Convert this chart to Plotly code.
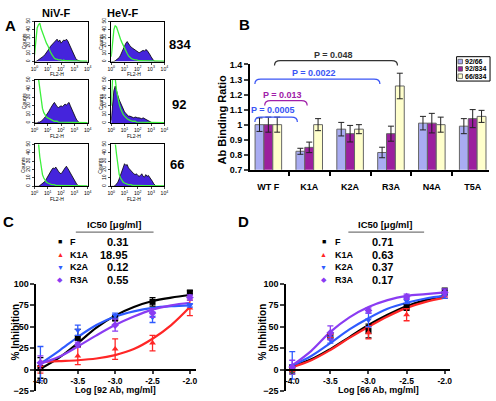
import plotly.graph_objects as go

W, H = 496, 401
FONT = "Liberation Sans, Arial, sans-serif"

# ---------------- Panel A data (flow cytometry histograms) ----------------
fl2_log = [0.0, 0.1, 0.2, 0.3, 0.4, 0.5, 0.6, 0.7, 0.8, 0.9, 1.0, 1.1, 1.2, 1.3,
           1.4, 1.5, 1.6, 1.7, 1.8, 1.9, 2.0, 2.1, 2.2, 2.3, 2.4, 2.5, 2.6, 2.7,
           2.8, 2.9, 3.0, 3.1, 3.2, 3.3, 3.4, 3.5, 3.6, 3.7, 3.8, 3.9, 4.0]
columns = ["NiV-F", "HeV-F"]
rows = ["834", "92", "66"]

niv_834_fill = [0, 0, 1, 2, 3, 4, 5, 7, 9, 11, 14, 16, 19, 21, 23, 25, 27, 28, 25, 27, 23,
                25, 27, 26, 28, 26, 22, 18, 14, 10, 7, 4, 2, 1, 0, 0, 0, 0, 0, 0, 0]
niv_834_ctrl = [8, 30, 42, 46, 48, 41, 36, 31, 27, 23, 20, 15, 12, 9, 6, 4, 3, 3, 2, 2, 2,
                1, 2, 1, 1, 1, 1, 1, 1, 0.5, 0.5, 0.5, 0.5, 0.5, 0.5, 0.5, 0.5, 0.5, 0.5, 0.5, 0.5]
hev_834_fill = [0, 0, 0, 1, 2, 3, 5, 8, 12, 17, 20, 23, 25, 22, 20, 18, 17, 15, 14, 13, 12,
                11, 12, 13, 14, 13, 15, 14, 12, 9, 6, 3, 1, 0, 0, 0, 0, 0, 0, 0, 0]
hev_834_ctrl = [6, 28, 40, 45, 43, 38, 32, 28, 24, 20, 17, 14, 10, 7, 5, 4, 3, 2, 2, 2, 1,
                1, 1, 1, 1, 1, 1, 0.5, 0.5, 0.5, 0.5, 0.5, 0.5, 0.5, 0.5, 0.5, 0.5, 0.5, 0.5, 0.5, 0.5]
niv_92_fill = [0, 0, 0, 1, 1, 2, 3, 5, 7, 9, 11, 14, 17, 20, 22, 24, 21, 19, 18, 19, 20,
               19, 20, 22, 21, 23, 24, 20, 16, 13, 10, 6, 3, 1, 0, 0, 0, 0, 0, 0, 0]
niv_92_ctrl = [52, 52, 52, 52, 40, 25, 17, 12, 9, 7, 6, 5, 4, 3, 3, 2, 2, 2, 1, 1, 1,
               1, 1, 1, 1, 1, 1, 0.5, 0.5, 0.5, 0.5, 0.5, 0.5, 0.5, 0.5, 0.5, 0.5, 0.5, 0.5, 0.5, 0.5]
hev_92_fill = [3, 20, 38, 43, 36, 32, 27, 23, 19, 16, 13, 11, 9, 8, 8, 7, 7, 6, 7, 6, 6,
               6, 5, 5, 6, 5, 4, 3, 2, 1, 1, 0, 0, 0, 0, 0, 0, 0, 0, 0, 0]
hev_92_ctrl = [20, 52, 52, 52, 38, 28, 22, 17, 13, 10, 8, 6, 5, 4, 3, 3, 2, 2, 2, 1, 1,
               1, 1, 1, 1, 1, 1, 0.5, 0.5, 0.5, 0.5, 0.5, 0.5, 0.5, 0.5, 0.5, 0.5, 0.5, 0.5, 0.5, 0.5]
niv_66_fill = [0, 0, 0, 0, 1, 2, 3, 4, 6, 9, 12, 15, 18, 20, 22, 21, 23, 20, 18, 16, 15,
               17, 20, 22, 24, 22, 19, 16, 13, 10, 7, 4, 2, 1, 0, 0, 0, 0, 0, 0, 0]
niv_66_ctrl = [52, 52, 52, 52, 35, 22, 14, 10, 7, 5, 4, 3, 3, 2, 2, 2, 1, 1, 1, 1, 1,
               1, 1, 1, 1, 1, 1, 0.5, 0.5, 0.5, 0.5, 0.5, 0.5, 0.5, 0.5, 0.5, 0.5, 0.5, 0.5, 0.5, 0.5]
hev_66_fill = [0, 0, 0, 1, 3, 5, 9, 14, 20, 24, 27, 25, 26, 22, 20, 18, 17, 15, 14, 15, 13,
               12, 13, 15, 12, 11, 14, 12, 13, 11, 9, 6, 3, 1, 0, 0, 0, 0, 0, 0, 0]
hev_66_ctrl = [52, 52, 52, 52, 38, 22, 14, 10, 7, 5, 4, 3, 3, 2, 2, 2, 1, 1, 1, 1, 1,
               1, 1, 1, 1, 1, 1, 0.5, 0.5, 0.5, 0.5, 0.5, 0.5, 0.5, 0.5, 0.5, 0.5, 0.5, 0.5, 0.5, 0.5]

hist_fill = [[niv_834_fill, hev_834_fill], [niv_92_fill, hev_92_fill], [niv_66_fill, hev_66_fill]]
hist_ctrl = [[niv_834_ctrl, hev_834_ctrl], [niv_92_ctrl, hev_92_ctrl], [niv_66_ctrl, hev_66_ctrl]]
fl2_ticks = [0, 1, 2, 3, 4]
fl2_ticktext = ["10<sup>0</sup>", "10<sup>1</sup>", "10<sup>2</sup>", "10<sup>3</sup>", "10<sup>4</sup>"]
count_ticks = [0, 10, 20, 30, 40, 50]

# ---------------- Panel B data ----------------
categories = ["WT F", "K1A", "K2A", "R3A", "N4A", "T5A"]
series_names = ["92/66", "92/834", "66/834"]
ratio_92_66 = [1.00, 0.823, 0.97, 0.815, 1.01, 0.99]
ratio_92_834 = [1.00, 0.849, 0.94, 0.94, 1.01, 1.04]
ratio_66_834 = [1.00, 1.00, 0.97, 1.257, 1.00, 1.055]
err_92_66 = [0.045, 0.02, 0.045, 0.035, 0.045, 0.05]
err_92_834 = [0.05, 0.035, 0.055, 0.05, 0.065, 0.06]
err_66_834 = [0.05, 0.04, 0.03, 0.085, 0.05, 0.04]
ratio_ticks = [0.7, 0.8, 0.9, 1.0, 1.1, 1.2, 1.3, 1.4]
ratio_ticktext = ["0.7", "0.8", "0.9", "1", "1.1", "1.2", "1.3", "1.4"]
p_labels = ["P = 0.0005", "P = 0.013", "P = 0.0022", "P = 0.048"]

# ---------------- Panels C & D data ----------------
dose_log = [-4.0, -3.5, -3.0, -2.5, -2.0]
fit_log = [-4.0, -3.75, -3.5, -3.25, -3.0, -2.75, -2.5, -2.25, -2.0]
mutants = ["F", "K1A", "K2A", "R3A"]

c_pts = {"F": [2, 37, 60, 79, 90], "K1A": [0, 16, 24, 31, 72],
         "K2A": [7, 46, 63, 61, 75], "R3A": [8, 29, 52, 66, 84]}
c_err = {"F": [12, 10, 3, 5, 2], "K1A": [4, 10, 12, 9, 9],
         "K2A": [20, 6, 3, 6, 2], "R3A": [8, 3, 7, 5, 3]}
c_fit = {"F": [1, 14, 31, 49, 63, 73, 80, 84, 87], "K1A": [9, 10, 11, 13, 17, 24, 36, 52, 73],
         "K2A": [7, 22, 38, 52, 62, 68, 72, 74, 75], "R3A": [7, 15, 27, 40, 52, 62, 70, 75, 78]}
c_ic50 = ["0.31", "18.95", "0.12", "0.55"]

d_pts = {"F": [0, 40, 45, 73, 91], "K1A": [2, 38, 43, 64, 86],
         "K2A": [5, 35, 58, 80, 87], "R3A": [3, 43, 69, 85, 90]}
d_err = {"F": [5, 3, 8, 4, 4], "K1A": [4, 3, 7, 7, 3],
         "K2A": [16, 4, 8, 3, 4], "R3A": [8, 8, 3, 3, 4]}
d_fit = {"F": [4, 12, 24, 38, 52, 64, 74, 81, 86], "K1A": [3, 11, 23, 37, 50, 62, 72, 79, 84],
         "K2A": [5, 16, 31, 47, 60, 71, 78, 83, 86], "R3A": [5, 22, 44, 61, 73, 81, 86, 88, 90]}
d_ic50 = ["0.71", "0.63", "0.37", "0.17"]

inhib_ticks = [-25, 0, 25, 50, 75, 100]
dose_ticktext = ["-4.0", "-3.5", "-3.0", "-2.5", "-2.0"]

# ---------------- styles ----------------
M_COLOR = {"F": "#000000", "K1A": "#FF2626", "K2A": "#2F5BFF", "R3A": "#8A3CF2"}
M_SYMBOL = {"F": "square", "K1A": "triangle-up", "K2A": "triangle-down", "R3A": "diamond"}
M_GLYPH = {"F": "■", "K1A": "▲", "K2A": "▼", "R3A": "◆"}
BAR_COLORS = ["#A9ACF2", "#9C1F9E", "#FFFFCC"]
FILL_COLOR = "#4524DC"
CTRL_COLOR = "#3CF03C"


def fx(px):
    return px / W


def fy(py):
    return 1 - py / H


fig = go.Figure()
layout = dict(width=W, height=H, margin=dict(l=0, r=0, t=0, b=0),
              paper_bgcolor="white", plot_bgcolor="white", showlegend=False,
              font=dict(family=FONT, color="black"))
annotations = []
shapes = []


def ann(text, x, y, size, color="black", bold=True, xanchor="center", yanchor="middle", angle=0):
    annotations.append(dict(text=("<b>%s</b>" % text) if bold else text, x=fx(x), y=fy(y),
                            xref="paper", yref="paper", showarrow=False, xanchor=xanchor,
                            yanchor=yanchor, textangle=angle,
                            font=dict(size=size, color=color, family=FONT)))


# ---------------- Panel A ----------------
col_px = [(31, 85), (109, 163)]
row_px = [(17, 58), (77, 121), (143, 186)]
ax = 0
for r in range(3):
    for c in range(2):
        ax += 1
        xa, ya = "x%d" % ax, "y%d" % ax
        fig.add_trace(go.Scatter(x=fl2_log, y=hist_fill[r][c], xaxis=xa, yaxis=ya, mode="lines",
                                 fill="tozeroy", fillcolor=FILL_COLOR,
                                 line=dict(color="black", width=0.8), hoverinfo="skip"))
        fig.add_trace(go.Scatter(x=fl2_log, y=hist_ctrl[r][c], xaxis=xa, yaxis=ya, mode="lines",
                                 line=dict(color=CTRL_COLOR, width=1.3), hoverinfo="skip"))
        (x0, x1), (y0, y1) = col_px[c], row_px[r]
        layout["xaxis%d" % ax] = dict(domain=[fx(x0), fx(x1)], range=[0, 4], anchor=ya,
                                      tickvals=fl2_ticks, ticktext=fl2_ticktext, ticks="outside",
                                      ticklen=2, tickwidth=0.8, showline=True, mirror=True,
                                      linecolor="black", linewidth=1, showgrid=False,
                                      zeroline=False, tickfont=dict(size=5, family=FONT))
        layout["yaxis%d" % ax] = dict(domain=[fy(y1), fy(y0)], range=[0, 50], anchor=xa,
                                      tickvals=count_ticks, ticks="outside", ticklen=2,
                                      tickwidth=0.8, showline=True, mirror=True,
                                      linecolor="black", linewidth=1, showgrid=False,
                                      zeroline=False, tickangle=-90,
                                      tickfont=dict(size=5, family=FONT))
        ann("FL2-H", (x0 + x1) / 2 - 4, y1 + 13, 5, bold=False)
        ann("Counts", x0 - 11, (y0 + y1) / 2, 5, bold=False, angle=-90)

ann("A", 7, 21, 15)
ann(columns[0], 53, 8, 11)
ann(columns[1], 120, 8, 11)
ann(rows[0], 179, 41, 13)
ann(rows[1], 178, 102, 13)
ann(rows[2], 176, 164, 13)

# ---------------- Panel B ----------------
bx_dom = (250, 493)
by_dom = (61, 169)
bx_rng = [-0.45, 5.4]
by_rng = [0.7, 1.4]
cat_pos = list(range(len(categories)))
ratios = [ratio_92_66, ratio_92_834, ratio_66_834]
errs = [err_92_66, err_92_834, err_66_834]
for i in range(3):
    fig.add_trace(go.Bar(x=cat_pos, y=ratios[i], name=series_names[i], xaxis="x7", yaxis="y7",
                         marker=dict(color=BAR_COLORS[i], line=dict(color="#666666", width=1)),
                         error_y=dict(type="data", array=errs[i], color="#222222",
                                      thickness=1, width=3), hoverinfo="skip"))
layout["xaxis7"] = dict(domain=[fx(bx_dom[0]), fx(bx_dom[1])], range=bx_rng, anchor="y7",
                        tickvals=cat_pos, ticktext=categories, ticks="outside", ticklen=7,
                        tickcolor="rgba(0,0,0,0)", showline=True, linecolor="black",
                        linewidth=2, showgrid=False, zeroline=False,
                        tickfont=dict(size=9, family=FONT, weight="bold"),
                        minor=dict(tickvals=[0.5, 1.5, 2.5, 3.5, 4.5], ticks="outside",
                                   ticklen=4, tickwidth=1.5, tickcolor="black"))
layout["yaxis7"] = dict(domain=[fy(by_dom[1]), fy(by_dom[0])], range=by_rng, anchor="x7",
                        tickvals=ratio_ticks, ticktext=ratio_ticktext, ticks="outside",
                        ticklen=4, tickwidth=1.5, showline=True, linecolor="black",
                        linewidth=2, showgrid=False, zeroline=False,
                        tickfont=dict(size=9, family=FONT, weight="bold"))
layout["barmode"] = "group"
layout["bargap"] = 0.35
layout["bargroupgap"] = 0.0


def bpx(v):
    return bx_dom[0] + (v - bx_rng[0]) / (bx_rng[1] - bx_rng[0]) * (bx_dom[1] - bx_dom[0])


def bracket(c0, c1, ypx, color, drop=5, r=6):
    x0, x1 = fx(bpx(c0)), fx(bpx(c1))
    yt, yb = fy(ypx), fy(ypx + drop)
    rx = r / W
    path = "M %f,%f Q %f,%f %f,%f L %f,%f Q %f,%f %f,%f" % (
        x0, yb, x0, yt, x0 + rx, yt, x1 - rx, yt, x1, yt, x1, yb)
    shapes.append(dict(type="path", path=path, xref="paper", yref="paper",
                       line=dict(color=color, width=1.2)))


p_info = [(-0.33, 0.71, 115, 108, "#3A55F5"), (-0.09, 0.95, 98, 92, "#A020A8"),
          (-0.33, 2.73, 76, 70, "#3A55F5"), (0.15, 3.16, 57, 51, "#333333")]
for lab, (c0, c1, yb, yt, col) in zip(p_labels, p_info):
    bracket(c0, c1, yb, col)
    ann(lab, bpx((c0 + c1) / 2) - 3, yt, 9, color=col)

ann("Ab Binding Ratio", 222, 118, 11, angle=-90)
ann("B", 244, 20, 15)

# legend box for B
shapes.append(dict(type="rect", xref="paper", yref="paper", x0=fx(460), x1=fx(494),
                   y0=fy(78), y1=fy(53), line=dict(color="black", width=1), fillcolor="white"))
for i, (nm, yc) in enumerate(zip(series_names, [58, 65.5, 73])):
    shapes.append(dict(type="rect", xref="paper", yref="paper", x0=fx(461.5), x1=fx(466),
                       y0=fy(yc + 2.3), y1=fy(yc - 2.3), fillcolor=BAR_COLORS[i],
                       line=dict(color="#555555", width=0.8)))
    ann(nm, 467, yc, 7, xanchor="left")


# ---------------- Panels C & D ----------------
def dose_panel(axn, xdom, xrng, pts, perr, fit, ic50, xtitle, title_x, ytitle_x, leg):
    xa, ya = "x%d" % axn, "y%d" % axn
    ydom = (286, 396)
    yrng = [-25, 100]
    for m in mutants:
        fig.add_trace(go.Scatter(x=fit_log, y=fit[m], xaxis=xa, yaxis=ya, mode="lines",
                                 line=dict(color=M_COLOR[m], width=2.2, shape="spline"),
                                 hoverinfo="skip", cliponaxis=False))
    for m in mutants:
        fig.add_trace(go.Scatter(x=dose_log, y=pts[m], xaxis=xa, yaxis=ya, mode="markers",
                                 marker=dict(color=M_COLOR[m], symbol=M_SYMBOL[m], size=6),
                                 error_y=dict(type="data", array=perr[m], color=M_COLOR[m],
                                              thickness=1.3, width=3),
                                 hoverinfo="skip", cliponaxis=False))
    zero_px = ydom[1] - (0 - yrng[0]) / (yrng[1] - yrng[0]) * (ydom[1] - ydom[0])
    layout["xaxis%d" % axn] = dict(domain=[fx(xdom[0]), fx(xdom[1])], range=xrng,
                                   anchor="free", position=fy(zero_px),
                                   tickvals=dose_log, ticktext=dose_ticktext, ticks="outside",
                                   ticklen=3, tickwidth=2, showline=True, linecolor="black",
                                   linewidth=2, showgrid=False, zeroline=False,
                                   tickfont=dict(size=8.5, family=FONT, weight="bold"))
    layout["yaxis%d" % axn] = dict(domain=[fy(ydom[1]), fy(ydom[0])], range=yrng, anchor=xa,
                                   tickvals=inhib_ticks, ticks="outside", ticklen=4,
                                   tickwidth=2, showline=True, linecolor="black", linewidth=2,
                                   showgrid=False, zeroline=False,
                                   tickfont=dict(size=9, family=FONT, weight="bold"))
    ann(xtitle, title_x, 394.5, 9)
    ann("% Inhibition", ytitle_x, 335, 10, angle=-90)
    gx, lx, vx, hx, ux0, ux1 = leg
    ann("IC50 [μg/ml]", hx, 225, 9.5, bold=True)
    shapes.append(dict(type="line", xref="paper", yref="paper", x0=fx(ux0), x1=fx(ux1),
                       y0=fy(233), y1=fy(233), line=dict(color="#777777", width=1.3)))
    for m, v, yc in zip(mutants, ic50, [243, 256, 269, 282]):
        ann(M_GLYPH[m], gx, yc, 7, color=M_COLOR[m], bold=False)
        ann(m, lx, yc, 9, xanchor="left")
        ann(v, vx, yc, 11, xanchor="right")


dose_panel(8, (33, 195), [-4.053, -1.92], c_pts, c_err, c_fit, c_ic50,
           "Log [92 Ab, mg/ml]", 113, 12, (57, 65, 128, 112, 73, 152))
dose_panel(9, (287, 453), [-4.077, -1.935], d_pts, d_err, d_fit, d_ic50,
           "Log [66 Ab, mg/ml]", 381, 263, (325, 334, 397, 387, 350, 427))
ann("C", 5, 222, 15)
ann("D", 243, 222, 15)

layout["annotations"] = annotations
layout["shapes"] = shapes
fig.update_layout(**layout)
fig.write_html("out.html", config={"displayModeBar": False},
               post_script="document.body.style.margin='0';document.body.style.overflow='hidden';")
